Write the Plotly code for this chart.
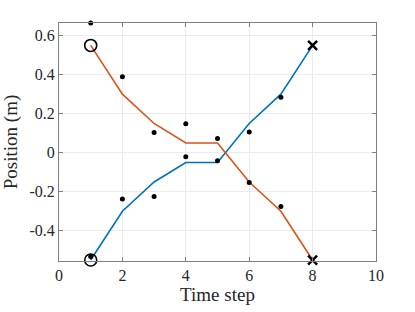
import plotly.graph_objects as go

steps = [1, 2, 3, 4, 5, 6, 7, 8]
path_a = [0.55, 0.30, 0.15, 0.05, 0.05, -0.15, -0.30, -0.55]
path_b = [-0.55, -0.30, -0.15, -0.05, -0.05, 0.15, 0.30, 0.55]
meas_steps = [1, 2, 3, 4, 5, 6, 7]
meas_a = [0.665, 0.39, 0.104, 0.149, 0.073, -0.152, -0.275]
meas_b = [-0.532, -0.237, -0.224, -0.02, -0.041, 0.106, 0.284]
start_pts = [0.55, -0.55]
end_pts = [0.55, -0.55]
xticks = [0, 2, 4, 6, 8, 10]
yticks = [-0.4, -0.2, 0, 0.2, 0.4, 0.6]
ytick_labels = ["-0.4", "-0.2", "0", "0.2", "0.4", "0.6"]

blue = "#0072BD"
orange = "#D95319"

fig = go.Figure()
fig.add_trace(go.Scatter(x=steps, y=path_b, mode="lines", cliponaxis=False,
                         line=dict(color=blue, width=1.6), showlegend=False))
fig.add_trace(go.Scatter(x=steps, y=path_a, mode="lines", cliponaxis=False,
                         line=dict(color=orange, width=1.6), showlegend=False))
fig.add_trace(go.Scatter(x=meas_steps + meas_steps, y=meas_a + meas_b, mode="markers",
                         cliponaxis=False,
                         marker=dict(color="black", size=5), showlegend=False))
fig.add_trace(go.Scatter(x=[steps[0], steps[0]], y=start_pts, mode="markers",
                         cliponaxis=False,
                         marker=dict(symbol="circle-open", color="black", size=12,
                                     line=dict(width=1.6, color="black")),
                         showlegend=False))
fig.add_trace(go.Scatter(x=[steps[-1], steps[-1]], y=end_pts, mode="markers",
                         cliponaxis=False,
                         marker=dict(symbol="x-thin-open", color="black", size=9,
                                     line=dict(width=2.5, color="black")),
                         showlegend=False))

font_family = "Liberation Serif"
axis_common = dict(
    showline=True, linecolor="#808080", linewidth=1, mirror="ticks",
    ticks="inside", ticklen=4, tickcolor="#808080", tickwidth=1,
    showgrid=True, gridcolor="#ebebeb", gridwidth=1, zeroline=False,
    automargin=False,
    tickfont=dict(family=font_family, size=16, color="#262626"),
)
fig.update_xaxes(range=[0, 10], tickvals=xticks,
                 title=dict(text="Time step", font=dict(family=font_family, size=19, color="#262626"),
                            standoff=1),
                 **axis_common)
fig.update_yaxes(range=[-0.555, 0.665], tickvals=yticks, ticktext=ytick_labels,
                 title=dict(text="Position (m)", font=dict(family=font_family, size=19, color="#262626"),
                            standoff=7),
                 **axis_common)
fig.update_layout(width=415, height=312, margin=dict(l=59, r=39, t=23, b=51),
                  font=dict(family=font_family),
                  plot_bgcolor="white", paper_bgcolor="white")
fig.write_html("out.html", config={"displayModeBar": False},
               post_script="document.body.style.margin='0';document.body.style.overflow='hidden';")
